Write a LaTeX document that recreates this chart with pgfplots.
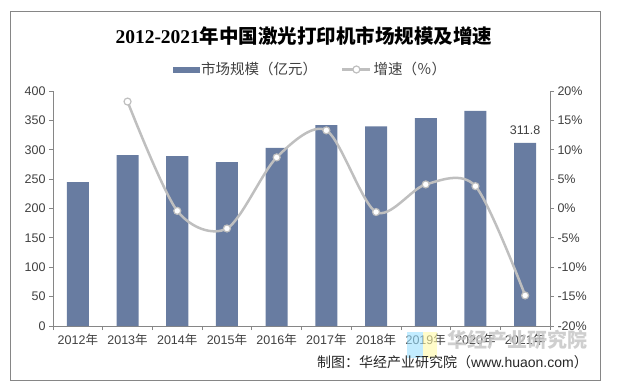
\documentclass[border=0pt]{standalone}
\usepackage{pgfplots}
\pgfplotsset{compat=1.18}
\usepackage{fontspec}
\setmainfont{Liberation Sans}
\newfontfamily\cjk{Noto Sans CJK SC}
\newfontfamily\serifdig{Liberation Serif}
\definecolor{barcol}{RGB}{104,124,161}
\definecolor{linecol}{RGB}{191,191,191}
\definecolor{axcol}{RGB}{134,134,134}
\definecolor{txt}{RGB}{64,64,64}
\newcommand{\yr}[1]{#1{\cjk 年}}
\pgfplotsset{
  mylegline/.style={legend image code/.code={\draw[mark repeat=2, mark phase=2, ##1] plot coordinates {(0pt,0pt) (14pt,0pt) (28pt,0pt)};}},
  mylegbar/.style={legend image code/.code={\fill[barcol] (0pt,-2.5pt) rectangle (26pt,2.5pt);}},
}
\begin{document}
\begin{tikzpicture}
\useasboundingbox (0pt,0pt) rectangle (621pt,-390pt);
\draw[axcol, line width=1pt] (10pt,-12pt) rectangle (600pt,-380pt);
\node[font=\fontsize{19.5}{21}\selectfont\bfseries, text=black] at (304pt,-35.5pt) {{\serifdig 2012-2021}{\cjk 年中国激光打印机市场规模及增速}};

\begin{axis}[
  at={(53pt,-326pt)}, anchor=south west,
  scale only axis, width=497pt, height=235pt,
  xmin=-0.5, xmax=9.5, ymin=0, ymax=400,
  axis x line*=bottom, axis y line*=left,
  axis line style={axcol, line width=0.8pt, -},
  ytick={0,50,...,400},
  xtick={0,...,9},
  xticklabels={\yr{2012},\yr{2013},\yr{2014},\yr{2015},\yr{2016},\yr{2017},\yr{2018},\yr{2019},\yr{2020},\yr{2021}},
  minor xtick={-0.5,0.5,...,9.5},
  major x tick style={draw=none},
  tick align=outside,
  major tick length=4pt, minor tick length=4pt,
  tick style={axcol, line width=0.8pt},
  ticklabel style={font=\fontsize{12.5}{14}\selectfont, text=txt},
  /pgf/number format/assume math mode=true,
  clip=false,
]
\addplot[ybar, bar width=22pt, fill=barcol, draw=none] coordinates {(0,245) (1,291) (2,289) (3,279) (4,303) (5,342) (6,340) (7,354) (8,366) (9,311.8)};
\addplot[draw=none, mark=none, nodes near coords, point meta=explicit symbolic,
  every node near coord/.append style={anchor=center, yshift=13pt, font=\fontsize{12.5}{14}\selectfont, text=txt}]
  coordinates {(9,311.8) [311.8]};
\end{axis}

\begin{axis}[
  at={(53pt,-326pt)}, anchor=south west,
  scale only axis, width=497pt, height=235pt,
  xmin=-0.5, xmax=9.5, ymin=-20, ymax=20,
  axis x line=none, axis y line*=right,
  axis line style={axcol, line width=0.8pt, -},
  ytick={-20,-15,...,20},
  yticklabels={-20\%,-15\%,-10\%,-5\%,0\%,5\%,10\%,15\%,20\%},
  tick align=outside, major tick length=4pt,
  tick style={axcol, line width=0.8pt},
  ticklabel style={font=\fontsize{12.5}{14}\selectfont, text=txt},
  legend style={at={(0.518,1.0915)}, anchor=center, draw=none, fill=none,
    legend columns=-1, font=\cjk\fontsize{14.5}{16}\selectfont, text=txt,
    /tikz/every even column/.append style={column sep=22pt},
    nodes={inner xsep=2pt}},
  clip=false,
]
\addlegendimage{mylegbar}
\addlegendentry{市场规模（亿元）}
\addplot[smooth, linecol, line width=2.5pt, mark=*, mark size=3.5pt,
  mark options={fill=white, draw=linecol, line width=1.2pt}, mylegline]
  coordinates {(1,18.2) (2,-0.4) (3,-3.4) (4,8.7) (5,13.3) (6,-0.6) (7,4.1) (8,3.8) (9,-14.8)};
\addlegendentry{增速（％）}
\end{axis}

\fill[blue!30!cyan!40!white, opacity=0.6] (407pt,-332pt) rectangle (423pt,-358pt);
\fill[yellow!35!white, opacity=0.6] (423pt,-332pt) rectangle (437pt,-358pt);
\node[text=black!22, opacity=0.85, font=\cjk\bfseries\fontsize{20}{22}\selectfont] at (517pt,-340pt) {华经产业研究院};
\node[anchor=east, inner sep=0pt, font=\fontsize{14}{16}\selectfont, text=black!85] at (588pt,-362pt) {{\cjk 制图：华经产业研究院（}www.huaon.com{\cjk ）}};
\end{tikzpicture}
\end{document}
